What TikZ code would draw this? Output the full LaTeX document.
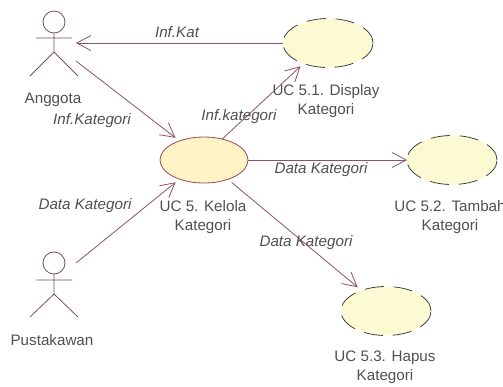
\documentclass[tikz,border=0pt]{standalone}
\usepackage{fontspec}
\setmainfont{Liberation Sans}
\usetikzlibrary{shapes.geometric,arrows.meta}
\definecolor{linec}{HTML}{8C5068}
\definecolor{actorc}{HTML}{7A5060}
\definecolor{txt}{HTML}{505050}
\definecolor{fillA}{HTML}{FDF3C4}
\definecolor{fillB}{HTML}{FCFAD2}
\tikzset{
  lbl/.style={text=txt,inner sep=0pt,align=center,font=\fontsize{15.2}{19}\selectfont},
  ilbl/.style={lbl,font=\fontsize{15.2}{19}\selectfont\itshape},
  ucmain/.style={ellipse,draw=linec!90!red,fill=fillA,line width=0.8pt,inner sep=0pt,outer sep=0pt,minimum width=88pt,minimum height=46pt},
  ucsub/.style={ellipse,draw=black!75,fill=fillB,line width=0.8pt,inner sep=0pt,outer sep=0pt,minimum width=90pt,minimum height=49pt,dash pattern=on 19pt off 10pt},
  conn/.style={draw=linec,line width=0.8pt,-{Straight Barb[length=14pt,width=15pt,line width=0.8pt]}},
  actorline/.style={draw=actorc,line width=0.8pt}
}
\begin{document}
\begin{tikzpicture}[x=1pt,y=-1pt]
\useasboundingbox (0,0) rectangle (503,386);
% use cases
\node[ucmain] (uc5) at (204,160) {};
\node[ucsub] (uc51) at (328,43) {};
\node[ucsub] (uc52) at (452,160) {};
\node[ucsub] (uc53) at (386,311) {};
% actors
\draw[actorline] (54,22) circle (11);
\draw[actorline] (36,38) -- (72,38) (54,33) -- (54,52) (30,76) -- (54,52) -- (78,76);
\draw[actorline] (54,263) circle (11);
\draw[actorline] (36,280) -- (72,280) (54,274) -- (54,294) (30,317) -- (54,294) -- (78,317);
\coordinate (a1in) at (76,43);
\coordinate (a1out) at (76,61);
\coordinate (a2out) at (76,263);
% connectors
\draw[conn] (uc51.180) -- (a1in);
\draw[conn,shorten >=5pt] (a1out) -- (uc5.142.5);
\draw[conn,shorten >=5pt] (a2out) -- (uc5.218.7);
\draw[conn,shorten >=4pt] (uc5.49) -- (uc51.220.6);
\draw[conn] (uc5.0) -- (uc52.180);
\draw[conn,shorten >=5pt,shorten <=5pt] (uc5.-39.4) -- (uc53.140);
% labels
\node[lbl] (tA) at (53,100) {Anggota};
\node[lbl] (tP) at (52,340) {Pustakawan};
\node[ilbl] (t1) at (177,32) {Inf.Kat};
\node[ilbl] (t2) at (92,121) {Inf.Kategori};
\node[ilbl] (t3) at (239,117) {Inf.kategori};
\node[ilbl] (t4) at (321,170) {Data Kategori};
\node[ilbl] (t5) at (85,206) {Data Kategori};
\node[ilbl] (t6) at (306,243) {Data Kategori};
\node[lbl] (l5) at (203,217) {UC 5. Kelola\\Kategori};
\node[lbl] (l51) at (326,101) {UC 5.1. Display\\Kategori};
\node[lbl] (l52) at (450,217) {UC 5.2. Tambah\\Kategori};
\node[lbl] (l53) at (385,367) {UC 5.3. Hapus\\Kategori};
\end{tikzpicture}
\end{document}
